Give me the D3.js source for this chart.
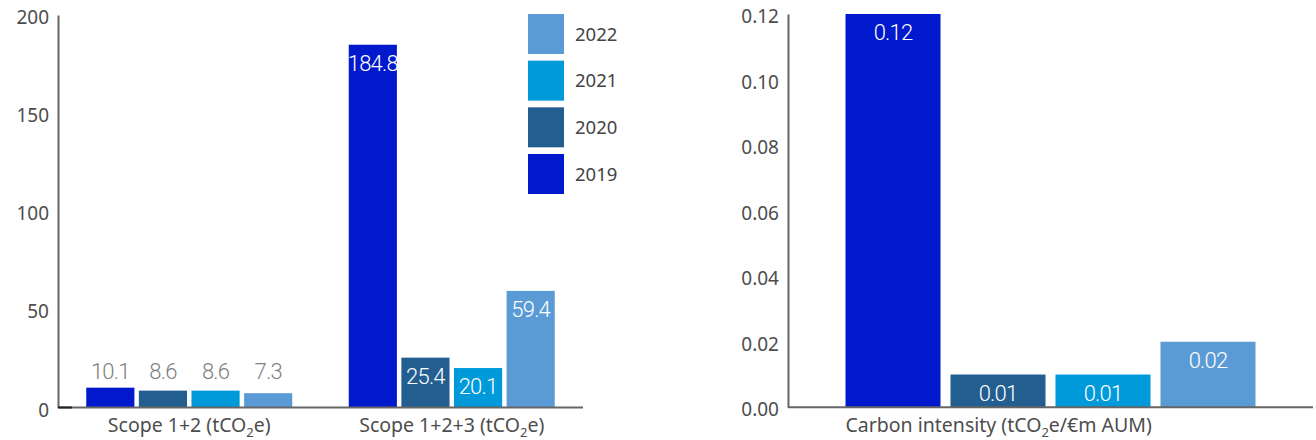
<!DOCTYPE html>
<html>
<head>
<meta charset="utf-8">
<script src="https://cdn.jsdelivr.net/npm/d3@7"></script>
<style>
  html, body { margin: 0; padding: 0; background: #fff; }
  svg { display: block; }
  .tick text { font-family: "Noto Sans", "Open Sans", sans-serif; }
</style>
</head>
<body>
<svg id="chart" width="1316" height="440"></svg>
<script>
// ---- data ----
const years = ["2019", "2020", "2021", "2022"];
const colors = ["#0019CC", "#235E91", "#0099DA", "#5B9BD5"];
const leftCategories = ["Scope 1+2 (tCO|2|e)", "Scope 1+2+3 (tCO|2|e)"];
const scope12 = [10.1, 8.6, 8.6, 7.3];
const scope123 = [184.8, 25.4, 20.1, 59.4];
const leftTicks = [0, 50, 100, 150, 200];
const rightCategories = ["Carbon intensity (tCO|2|e/€m AUM)"];
const intensity = [0.12, 0.01, 0.01, 0.02];
const rightTicks = [0, 0.02, 0.04, 0.06, 0.08, 0.10, 0.12];

const svg = d3.select("#chart");
const axisColor = "#666";
const textColor = "#4d4d4d";

function subLabel(g, label, x, y, anchor) {
  const parts = label.split("|");
  const t = g.append("text")
    .attr("x", x).attr("y", y)
    .attr("text-anchor", anchor)
    .attr("font-family", "'Noto Sans', 'Open Sans', sans-serif")
    .attr("font-size", 19.5)
    .attr("fill", textColor);
  t.append("tspan").text(parts[0]);
  t.append("tspan").attr("font-size", 13).attr("dy", 5).text(parts[1]);
  t.append("tspan").attr("dy", -5).text(parts[2]);
}

function drawPanel(opts) {
  const { x0, x1, yTop, yBottom, domain, ticks, fmt, categories, values, groupWidth, barPad, labelAlign } = opts;
  const g = svg.append("g");
  const y = d3.scaleLinear().domain(domain).range([yBottom, yTop]);
  const x = d3.scaleBand().domain(categories).range([x0, x1]).padding(0);
  const xi = d3.scaleBand().domain(years).range([0, groupWidth]).paddingInner(barPad);

  // y axis
  const ya = g.append("g").attr("transform", `translate(${x0},0)`)
    .call(d3.axisLeft(y).tickValues(ticks).tickFormat(fmt).tickSize(0).tickPadding(9));
  ya.select(".domain").attr("stroke", axisColor).attr("stroke-width", 2);
  ya.selectAll(".tick text").attr("font-size", 19).attr("fill", textColor).attr("dy", "0.45em");

  // bars
  categories.forEach((cat, ci) => {
    const vals = values[ci];
    const gx = x(cat) + (x.bandwidth() - groupWidth) / 2;
    const grp = g.append("g").attr("transform", `translate(${gx},0)`);
    const maxV = d3.max(vals);
    grp.selectAll("rect").data(vals).join("rect")
      .attr("x", (d, i) => xi(years[i]))
      .attr("width", xi.bandwidth())
      .attr("y", d => y(d))
      .attr("height", d => y(0) - y(d))
      .attr("fill", (d, i) => colors[i]);
    grp.selectAll("text.val").data(vals).join("text")
      .attr("class", "val")
      .attr("x", (d, i) => xi(years[i]) + xi.bandwidth() / 2)
      .attr("y", d => (y(0) - y(d) < 28) ? y(maxV) - 9 : y(d) + 26)
      .attr("text-anchor", "middle")
      .attr("font-family", "Roboto, sans-serif")
      .attr("font-weight", 300)
      .attr("font-size", 22)
      .attr("letter-spacing", "-0.8px")
      .attr("fill", d => (y(0) - y(d) < 28) ? "#808080" : "#fff")
      .text(d => opts.valFmt(d));
    if (labelAlign === "start") subLabel(g, cat, gx, 432, "start");
    else subLabel(g, cat, x(cat) + x.bandwidth() / 2, 432, "middle");
  });

  // x axis line
  g.append("line")
    .attr("x1", x0).attr("x2", x1)
    .attr("y1", y(0)).attr("y2", y(0))
    .attr("stroke", axisColor).attr("stroke-width", 2);
  return { g, y };
}

const left = drawPanel({
  x0: 58, x1: 583, yTop: 14.9, yBottom: 407.5,
  domain: [0, 200], ticks: leftTicks, fmt: d3.format("d"),
  categories: leftCategories, values: [scope12, scope123],
  groupWidth: 206, barPad: 0.085, valFmt: d3.format(".1f"), labelAlign: "middle"
});
// small dark tick at origin of left panel
left.g.append("line").attr("x1", 58).attr("x2", 72)
  .attr("y1", 407.5).attr("y2", 407.5).attr("stroke", "#222").attr("stroke-width", 2);

drawPanel({
  x0: 788, x1: 1313, yTop: 14, yBottom: 407.3,
  domain: [0, 0.12], ticks: rightTicks, fmt: d3.format(".2f"),
  categories: rightCategories, values: [intensity],
  groupWidth: 410, barPad: 0.095, valFmt: d3.format(".2f"), labelAlign: "start"
});

// legend (2022 at top)
const legendYears = years.slice().reverse();
const lg = svg.append("g").attr("transform", "translate(528,14)");
const ly = d3.scaleBand().domain(legendYears).range([0, 180]).paddingInner(0.143);
legendYears.forEach(yr => {
  const i = years.indexOf(yr);
  lg.append("rect").attr("x", 0).attr("y", ly(yr)).attr("width", 36).attr("height", ly.bandwidth())
    .attr("fill", colors[i]);
  lg.append("text").attr("x", 47).attr("y", ly(yr) + ly.bandwidth() / 2)
    .attr("dy", "0.36em")
    .attr("font-family", "'Noto Sans', 'Open Sans', sans-serif")
    .attr("font-size", 18.5).attr("fill", "#444").text(yr);
});
</script>
</body>
</html>
